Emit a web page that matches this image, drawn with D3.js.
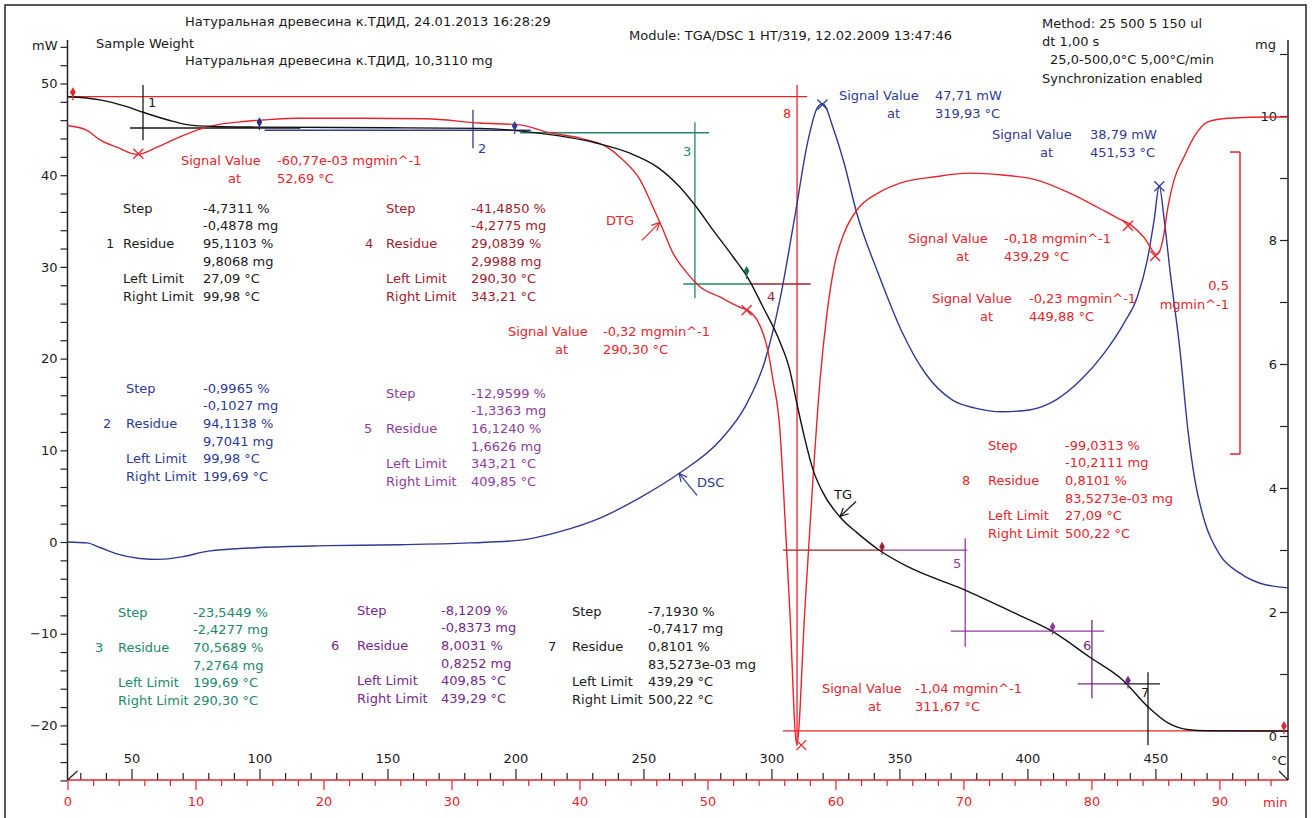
<!DOCTYPE html>
<html><head><meta charset="utf-8">
<script src="https://cdn.jsdelivr.net/npm/d3@7"></script>
<style>
html,body{margin:0;padding:0;background:#fff;}
svg{display:block;font-family:"DejaVu Sans",sans-serif;}
</style></head><body>
<svg id="c" width="1313" height="818"></svg>
<script>
// ---------------- DATA ----------------
// TG curve: [temperature °C, mass mg]
const tgData = [[25,10.31],[37.7,10.26],[48.2,10.15],[54.5,10.06],[63.9,9.94],[71.7,9.86],[81.8,9.83],[100,9.82],[150,9.81],[186,9.80],[205.7,9.74],[231.9,9.56],[244.7,9.40],[255.3,9.18],[264.3,8.85],[270.9,8.52],[277.2,8.16],[285,7.73],[290.8,7.39],[296.7,6.92],[303.3,6.36],[307,5.93],[310,5.35],[313,4.8],[316.2,4.3],[319.8,3.95],[327.5,3.5],[333.4,3.28],[342,3.0],[353.3,2.73],[375.9,2.35],[395.1,1.98],[408.8,1.71],[424.4,1.27],[437.3,0.90],[447.1,0.47],[454.9,0.21],[463.1,0.10],[470,0.085],[501.8,0.08]];
// DTG curve: [temperature °C, mg/min]
const dtgData = [[25,-0.014],[32.6,-0.022],[37.7,-0.038],[44.3,-0.050],[52.2,-0.062],[60,-0.050],[67.8,-0.035],[76.8,-0.020],[83.4,-0.013],[92.4,-0.008],[101.4,-0.005],[115.8,-0.002],[140,-0.002],[165,-0.003],[186.1,-0.010],[201.8,-0.013],[212.3,-0.025],[225.2,-0.035],[235.8,-0.050],[242,-0.071],[248.7,-0.104],[253.7,-0.149],[257.2,-0.182],[261.5,-0.225],[267,-0.258],[272.1,-0.281],[279.9,-0.298],[287.7,-0.315],[290.8,-0.320],[294.4,-0.336],[298.3,-0.381],[300.6,-0.435],[303.3,-0.518],[304.5,-0.601],[307.2,-0.82],[309.9,-1.04],[313,-0.82],[316.2,-0.601],[319.0,-0.435],[321.7,-0.325],[324.5,-0.248],[328.4,-0.192],[333.4,-0.154],[341.6,-0.126],[350.6,-0.109],[363.9,-0.099],[377.2,-0.093],[390.1,-0.096],[403.4,-0.104],[416.6,-0.126],[427.2,-0.149],[435.0,-0.167],[440.5,-0.179],[445.5,-0.199],[450.6,-0.228],[452.9,-0.204],[454.9,-0.149],[457.3,-0.104],[461.2,-0.066],[465.1,-0.033],[470.5,-0.008],[478.4,-0.002],[495.6,0],[501.8,0]];
// DSC curve: [temperature °C, mW]
const dscData = [[25,0],[32.6,-0.1],[37.7,-0.6],[44.3,-1.3],[53.3,-1.8],[61,-1.9],[70,-1.6],[80,-1.0],[100,-0.6],[127,-0.4],[155,-0.3],[182,-0.1],[202,0.2],[217,1.1],[233,2.6],[249,4.9],[264,7.5],[280,11.1],[290,14.9],[297.5,19.8],[303.3,26.4],[309.2,35.6],[314.3,43.8],[318,47.4],[320,47.8],[324.4,44.9],[328.4,41.3],[333.4,35.8],[341.7,29.3],[350.7,23.1],[360.1,18.4],[370.6,15.5],[379.6,14.6],[390.1,14.2],[400.7,14.4],[411.2,15.5],[420.6,17.6],[430,20.6],[437.8,23.9],[442.9,26.7],[446.8,30.7],[449.5,35.1],[451.5,38.8],[453.5,35.0],[455.7,29.6],[459.6,20.9],[462.7,12.2],[465.4,6.8],[469.4,2.1],[475.2,-1.4],[483,-3.4],[490.9,-4.5],[501.8,-5.0]];

// axis ticks
const mwTickLabels = [-20,-10,0,10,20,30,40,50];
const mgTickLabels = [0,2,4,6,8,10];
const tempTickLabels = [50,100,150,200,250,300,350,400,450];
const timeTickLabels = [0,10,20,30,40,50,60,70,80,90];

// step evaluation results
const stepNo = ["1","2","3","4","5","6","7","8"];
const stepPct = ["-4,7311 %","-0,9965 %","-23,5449 %","-41,4850 %","-12,9599 %","-8,1209 %","-7,1930 %","-99,0313 %"];
const stepMg = ["-0,4878 mg","-0,1027 mg","-2,4277 mg","-4,2775 mg","-1,3363 mg","-0,8373 mg","-0,7417 mg","-10,2111 mg"];
const residuePct = ["95,1103 %","94,1138 %","70,5689 %","29,0839 %","16,1240 %","8,0031 %","0,8101 %","0,8101 %"];
const residueMg = ["9,8068 mg","9,7041 mg","7,2764 mg","2,9988 mg","1,6626 mg","0,8252 mg","83,5273e-03 mg","83,5273e-03 mg"];
const leftLimitTxt = ["27,09 °C","99,98 °C","199,69 °C","290,30 °C","343,21 °C","409,85 °C","439,29 °C","27,09 °C"];
const rightLimitTxt = ["99,98 °C","199,69 °C","290,30 °C","343,21 °C","409,85 °C","439,29 °C","500,22 °C","500,22 °C"];
const limitTemps = [27.09, 99.98, 199.69, 290.30, 343.21, 409.85, 439.29, 500.22];
const residueLevels = [9.8068, 9.7041, 7.2764, 2.9988, 1.6626, 0.8252, 0.0835, 10.311];

// signal value evaluations
const dtgPeakT = [52.69, 290.30, 311.67, 439.29, 449.88];
const dtgPeakV = [-0.06077, -0.32, -1.04, -0.18, -0.23];
const dtgPeakTxt = ["-60,77e-03 mgmin^-1","-0,32 mgmin^-1","-1,04 mgmin^-1","-0,18 mgmin^-1","-0,23 mgmin^-1"];
const dtgPeakAt = ["52,69 °C","290,30 °C","311,67 °C","439,29 °C","449,88 °C"];
const dscPeakT = [319.93, 451.53];
const dscPeakV = [47.71, 38.79];
const dscPeakTxt = ["47,71 mW","38,79 mW"];
const dscPeakAt = ["319,93 °C","451,53 °C"];

// ---------------- LAYOUT ----------------
const svg = d3.select("#c");
const RED="#e8232b", NAVY="#2e3a96", GREEN="#22886a", DRED="#a3202e", PURPLE="#8e3c9f", DPURPLE="#76288a", TXT="#1a1a1a";
const L=67.5, R=1288, AX=780;
const tMax = 95.36;
const xTime = d3.scaleLinear().domain([0,tMax]).range([L,R]);
const xT = d3.scaleLinear().domain([25,25+5*tMax]).range([L,R]);
const yMW = d3.scaleLinear().domain([0,50]).range([542,83.5]);
const yMg = d3.scaleLinear().domain([0,10]).range([736,116]);
const yDTG = d3.scaleLinear().domain([-1,0]).range([721,117]);

function txt(x,y,s,color,anchor,size){
  return svg.append("text").attr("x",x).attr("y",y).attr("dominant-baseline","central")
    .attr("fill",color).attr("text-anchor",anchor||"start").style("font-size",(size||13)+"px").text(s);
}
function seg(x1,y1,x2,y2,color,w){
  svg.append("line").attr("x1",x1).attr("y1",y1).attr("x2",x2).attr("y2",y2)
    .attr("stroke",color).attr("stroke-width",w||1.2);
}
function interp(data,t){
  for(let i=1;i<data.length;i++){ if(data[i][0]>=t){const a=data[i-1],b=data[i];return a[1]+(b[1]-a[1])*(t-a[0])/(b[0]-a[0]);} }
  return data[data.length-1][1];
}

// frame
svg.append("rect").attr("x",5).attr("y",5).attr("width",1301).attr("height",830).attr("fill","none").attr("stroke","#222").attr("stroke-width",1.5);

// header
txt(185,21,"Натуральная древесина к.ТДИД, 24.01.2013 16:28:29",TXT);
txt(96,43,"Sample Weight",TXT);
txt(185,60,"Натуральная древесина к.ТДИД, 10,3110 mg",TXT);
txt(629,35,"Module: TGA/DSC 1 HT/319, 12.02.2009 13:47:46",TXT);
txt(1042,23,"Method: 25 500 5 150 ul",TXT);
txt(1042,41,"dt 1,00 s",TXT);
txt(1050,59,"25,0-500,0°C 5,00°C/min",TXT);
txt(1042,78,"Synchronization enabled",TXT);
txt(32,45,"mW",TXT);
txt(1255,44,"mg",TXT);

// left axis
const gl = svg.append("g").attr("transform",`translate(${L},0)`)
  .call(d3.axisLeft(yMW).tickValues(d3.range(-26,55,2)).tickSize(7)
     .tickFormat(d=>mwTickLabels.includes(d)?d3.format("d")(d):"").tickPadding(3));
gl.select(".domain").remove();
gl.selectAll("line").attr("stroke","#222").attr("stroke-width",1.2);
gl.selectAll("text").style("font-size","13px").attr("fill",TXT).style("font-family","DejaVu Sans");
seg(L,40,L,AX,"#222",1.5);

// right axis
const gr = svg.append("g").attr("transform",`translate(${R},0)`)
  .call(d3.axisLeft(yMg).tickValues(d3.range(0,12,1)).tickSize(8)
     .tickFormat(d=>mgTickLabels.includes(d)?d3.format("d")(d):"").tickPadding(3));
gr.select(".domain").remove();
gr.selectAll("line").attr("stroke","#222").attr("stroke-width",1.2);
gr.selectAll("text").style("font-size","13px").attr("fill",TXT).style("font-family","DejaVu Sans");
seg(R,40,R,AX,"#222",1.5);

// bottom axis: temperature ticks above (black), time ticks below (red)
const gtMinor = svg.append("g").attr("transform",`translate(0,${AX})`)
  .call(d3.axisTop(xT).tickValues(d3.range(30,501,10).filter(v=>v%50!==0)).tickSize(7).tickFormat(""));
const gtMajor = svg.append("g").attr("transform",`translate(0,${AX})`)
  .call(d3.axisTop(xT).tickValues(tempTickLabels).tickSize(11).tickPadding(6).tickFormat(d3.format("d")));
[gtMinor,gtMajor].forEach(g=>{g.select(".domain").remove();g.selectAll("line").attr("stroke","#222").attr("stroke-width",1.2);});
gtMajor.selectAll("text").style("font-size","13px").attr("fill",TXT).style("font-family","DejaVu Sans");
const gmMinor = svg.append("g").attr("transform",`translate(0,${AX})`)
  .call(d3.axisBottom(xTime).tickValues(d3.range(2,95,2).filter(v=>v%10!==0)).tickSize(6).tickFormat(""));
const gmMajor = svg.append("g").attr("transform",`translate(0,${AX})`)
  .call(d3.axisBottom(xTime).tickValues(timeTickLabels).tickSize(10).tickPadding(7).tickFormat(d3.format("d")));
[gmMinor,gmMajor].forEach(g=>{g.select(".domain").remove();g.selectAll("line").attr("stroke",RED).attr("stroke-width",1.2);});
gmMajor.selectAll("text").style("font-size","13px").attr("fill",RED).style("font-family","DejaVu Sans");
seg(L,AX,R,AX,RED,1.4);
txt(1271,760,"°C",TXT);
txt(1263,802,"min",RED);
// axis break marks
seg(L,AX,L+10,AX-9,"#222",1.3);
seg(R-9,AX-9,R,AX,"#222",1.3);

// ---------------- STEP CROSSHAIRS ----------------
const P=(t,m)=>[xT(t),yMg(m)];
function hline(t1,t2,m,c){const a=P(t1,m),b=P(t2,m);seg(a[0],a[1],b[0],b[1],c,1.3);}
function vline(t,m1,m2,c){const a=P(t,m1),b=P(t,m2);seg(a[0],a[1],b[0],b[1],c,1.3);}
// step 8 (red)
hline(25,314,residueLevels[7],RED);
vline(310,10.5,-0.15,RED);
hline(304.5,501.8,residueLevels[6],RED);
// step 1 (black)
hline(49.4,116,residueLevels[0],TXT);
vline(54.5,10.5,9.61,TXT);
// step 2 (blue)
hline(102,206,9.77,NAVY);
vline(183.4,10.1,9.48,NAVY);
// step 3 (green)
hline(201.8,275.6,9.73,GREEN);
vline(270.1,9.9,7.06,GREEN);
hline(265.6,291.8,7.29,GREEN);
// step 4 (dark red)
hline(291.8,315.3,7.29,DRED);
hline(304.5,342.4,residueLevels[3],DRED);
// step 5 (purple)
hline(342.4,376.5,residueLevels[3],PURPLE);
vline(375.7,3.19,1.44,PURPLE);
hline(370.1,430,1.69,PURPLE);
// step 6
vline(425.2,1.87,0.61,DPURPLE);
hline(419.7,437.3,0.84,DPURPLE);
// step 7 (black)
hline(437.3,451.8,0.84,TXT);
vline(447.1,1.03,-0.15,TXT);

// step number labels
txt(148,102,"1",TXT); txt(478,148,"2",NAVY); txt(683,151,"3",GREEN); txt(767,296,"4",DRED);
txt(953,563,"5",PURPLE); txt(1083,645,"6",DPURPLE); txt(1141,692,"7",TXT); txt(783,113,"8",RED);

// ---------------- CURVES ----------------
const lineGen = (y)=>d3.line().x(d=>xT(d[0])).y(d=>y(d[1])).curve(d3.curveMonotoneX);
svg.append("path").datum(dscData).attr("d",lineGen(yMW)).attr("fill","none").attr("stroke",NAVY).attr("stroke-width",1.4);
svg.append("path").datum(dtgData).attr("d",lineGen(yDTG)).attr("fill","none").attr("stroke",RED).attr("stroke-width",1.4);
svg.append("path").datum(tgData).attr("d",lineGen(yMg)).attr("fill","none").attr("stroke","#111").attr("stroke-width",1.4);

// limit diamonds on TG
const diaCol = [RED,"#22307a",NAVY,"#1f6e4f",DRED,PURPLE,DPURPLE,RED];
limitTemps.forEach((t,i)=>{
  const x=xT(t), y=yMg(interp(tgData,t));
  svg.append("path").attr("d",d3.symbol(d3.symbolDiamond,28)()).attr("transform",`translate(${x},${y-5})`).attr("fill",diaCol[i]);
  seg(x,y-5,x,y+3,diaCol[i],1.2);
});

// peak cross markers
function cross(x,y,c){seg(x-5,y-5,x+5,y+5,c,1.3);seg(x-5,y+5,x+5,y-5,c,1.3);}
dtgPeakT.forEach((t,i)=>cross(xT(t),yDTG(dtgPeakV[i]),RED));
dscPeakT.forEach((t,i)=>cross(xT(t),yMW(dscPeakV[i]),NAVY));

// DTG scale bar 0,5 mgmin^-1
const barTop=yDTG(-0.058), barBot=yDTG(-0.558);
seg(1240,barTop,1240,barBot,RED,1.5); seg(1230,barTop,1240,barTop,RED,1.5); seg(1230,barBot,1240,barBot,RED,1.5);
txt(1229,285,"0,5",RED,"end"); txt(1229,304,"mgmin^-1",RED,"end");

// ---------------- TEXT BLOCKS ----------------
const blockPos = [
 {n:106,l:123,v:203,y:208,c:TXT},
 {n:103,l:126,v:203,y:388,c:NAVY},
 {n:95,l:118,v:193,y:612,c:GREEN},
 {n:365,l:386,v:471,y:208,c:DRED},
 {n:364,l:386,v:471,y:393,c:PURPLE},
 {n:331,l:357,v:441,y:610,c:DPURPLE},
 {n:548,l:572,v:648,y:611,c:TXT},
 {n:962,l:988,v:1065,y:445,c:RED}];
const rowH=17.7;
blockPos.forEach((b,i)=>{
  txt(b.l,b.y,"Step",b.c); txt(b.v,b.y,stepPct[i],b.c);
  txt(b.v,b.y+rowH,stepMg[i],b.c);
  txt(b.n,b.y+2*rowH,stepNo[i],b.c);
  txt(b.l,b.y+2*rowH,"Residue",b.c); txt(b.v,b.y+2*rowH,residuePct[i],b.c);
  txt(b.v,b.y+3*rowH,residueMg[i],b.c);
  txt(b.l,b.y+4*rowH,"Left Limit",b.c); txt(b.v,b.y+4*rowH,leftLimitTxt[i],b.c);
  txt(b.l,b.y+5*rowH,"Right Limit",b.c); txt(b.v,b.y+5*rowH,rightLimitTxt[i],b.c);
});
const dtgSigPos = [{l:181,v:277,a:228,y:160},{l:508,v:603,a:555,y:331},{l:822,v:915,a:868,y:688},{l:908,v:1004,a:956,y:238},{l:932,v:1029,a:980,y:298}];
dtgSigPos.forEach((p,i)=>{txt(p.l,p.y,"Signal Value",RED);txt(p.v,p.y,dtgPeakTxt[i],RED);txt(p.a,p.y+18,"at",RED);txt(p.v,p.y+18,dtgPeakAt[i],RED);});
const dscSigPos = [{l:839,v:935,a:887,y:95},{l:992,v:1090,a:1040,y:134}];
dscSigPos.forEach((p,i)=>{txt(p.l,p.y,"Signal Value",NAVY);txt(p.v,p.y,dscPeakTxt[i],NAVY);txt(p.a,p.y+18,"at",NAVY);txt(p.v,p.y+18,dscPeakAt[i],NAVY);});

// curve labels with arrows
function arrow(x1,y1,x2,y2,c){
  seg(x1,y1,x2,y2,c,1.2);
  const ang=Math.atan2(y2-y1,x2-x1), h=9;
  seg(x2,y2,x2-h*Math.cos(ang-0.45),y2-h*Math.sin(ang-0.45),c,1.2);
  seg(x2,y2,x2-h*Math.cos(ang+0.45),y2-h*Math.sin(ang+0.45),c,1.2);
}
{ const t=256.4, x=xT(t), y=yDTG(interp(dtgData,t)); arrow(x-18,y+18,x,y,RED); txt(606,220,"DTG",RED); }
{ const t=263.9, x=xT(t), y=yMW(interp(dscData,t)); arrow(x+18,y+22,x,y,NAVY); txt(697,482,"DSC",NAVY); }
{ const t=326.8, x=xT(t), y=yMg(interp(tgData,t)); arrow(x+16,y-15,x,y,"#111"); txt(834,494,"TG","#111"); }
</script>
</body></html>
